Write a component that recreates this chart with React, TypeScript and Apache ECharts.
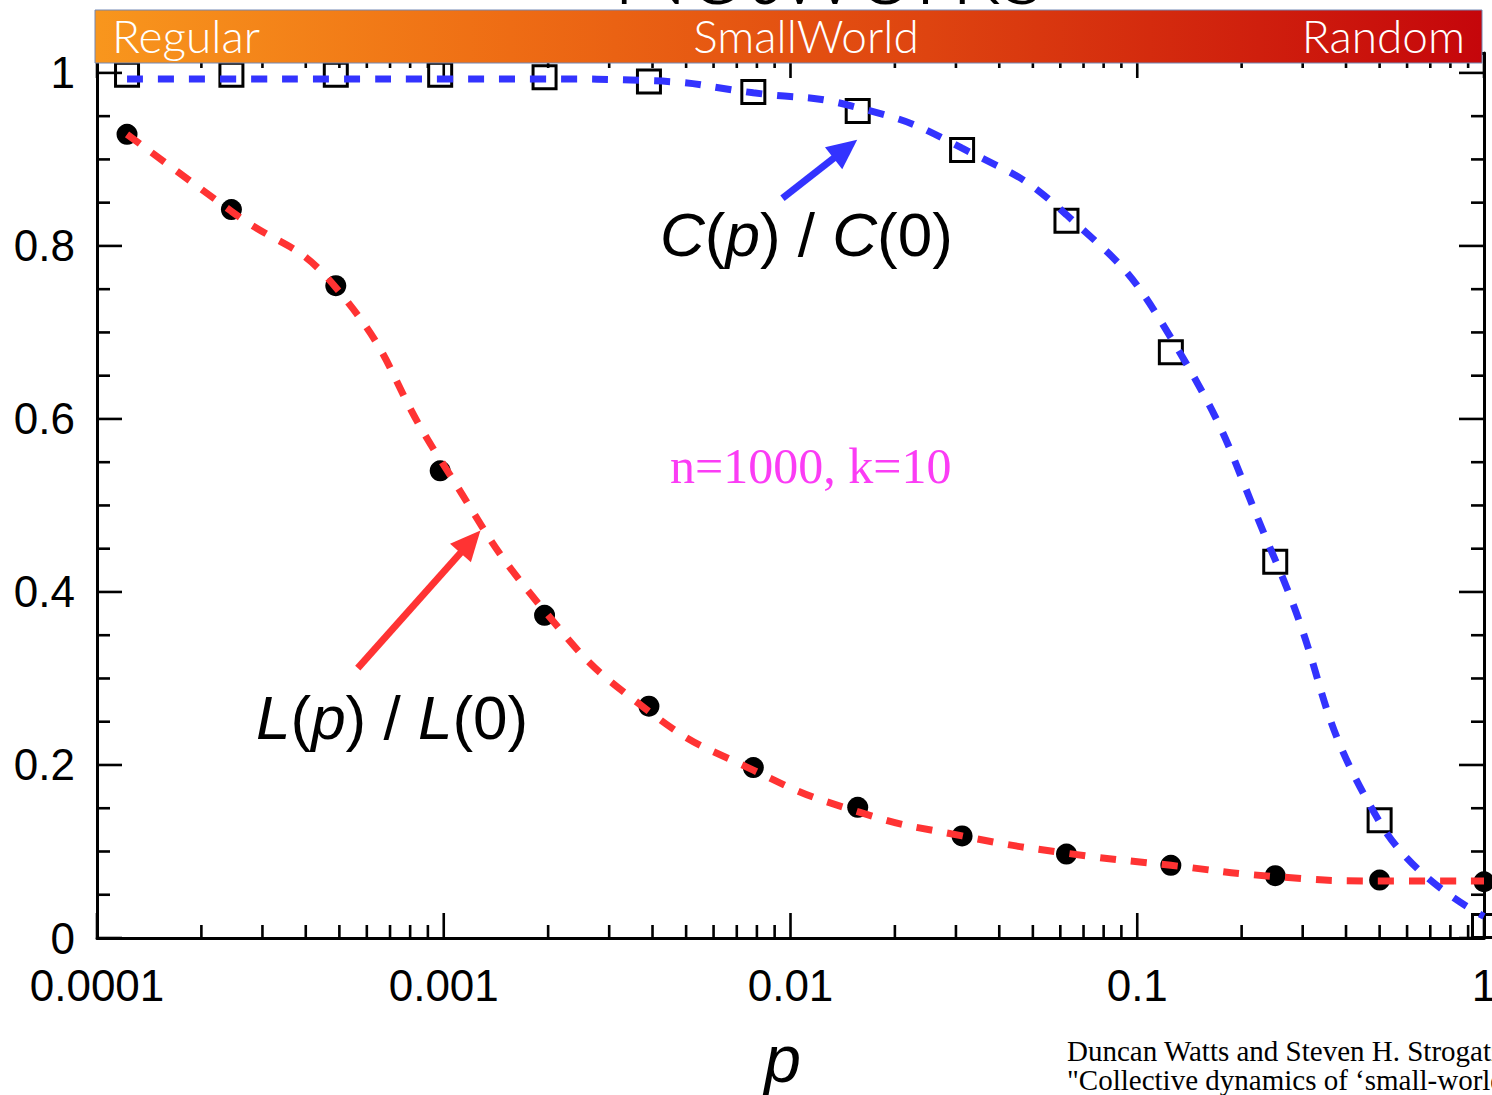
import React, { useEffect, useRef } from "react";
import * as echarts from "echarts";

// ---------- data ----------
const P_VALUES = [
  0.00012207, 0.00024414, 0.00048828, 0.00097656, 0.0019531, 0.0039063, 0.0078125,
  0.015625, 0.03125, 0.0625, 0.125, 0.25, 0.5, 1,
];
const L_VALUES = [0.929, 0.842, 0.754, 0.54, 0.373, 0.268, 0.197, 0.151, 0.118, 0.097, 0.084, 0.072, 0.067, 0.065];
const C_VALUES = [0.998, 0.998, 0.998, 0.998, 0.995, 0.99, 0.978, 0.956, 0.911, 0.829, 0.677, 0.435, 0.136, 0.014];
const L_FIT = [0.929, 0.84, 0.752, 0.553, 0.378, 0.262, 0.194, 0.146, 0.118, 0.098, 0.084, 0.071, 0.066, 0.066];
const C_FIT = [0.993, 0.993, 0.993, 0.993, 0.993, 0.991, 0.977, 0.96, 0.913, 0.836, 0.694, 0.437, 0.134, 0.025];

const X_TICK_LABELS = ["0.0001", "0.001", "0.01", "0.1", "1"];
const X_MAJOR_TICKS = [0.0001, 0.001, 0.01, 0.1, 1];
const X_MINOR_TICKS = [
  0.0002, 0.0003, 0.0004, 0.0005, 0.0006, 0.0007, 0.0008, 0.0009,
  0.002, 0.003, 0.004, 0.005, 0.006, 0.007, 0.008, 0.009,
  0.02, 0.03, 0.04, 0.05, 0.06, 0.07, 0.08, 0.09,
  0.2, 0.3, 0.4, 0.5, 0.6, 0.7, 0.8, 0.9,
];
const Y_MAJOR_TICKS = [0, 0.2, 0.4, 0.6, 0.8, 1];
const Y_MINOR_TICKS = [0.05, 0.1, 0.15, 0.25, 0.3, 0.35, 0.45, 0.5, 0.55, 0.65, 0.7, 0.75, 0.85, 0.9, 0.95];
const Y_MAX = 1.023;

const RED_ARROW = [[0.000565, 0.312], [0.001194, 0.458]];
const BLUE_ARROW = [[0.00948, 0.855], [0.0144, 0.912]];

const BANNER_LABELS = ["Regular", "SmallWorld", "Random"];
const TITLE = "Networks";
const PARAM_TEXT = "n=1000, k=10";
const CITATION = [
  "Duncan Watts and Steven H. Strogatz,",
  "\"Collective dynamics of \u2018small-world\u2019 networks\"",
];

const SANS = '"Liberation Sans", Arial, Helvetica, sans-serif';
const SERIF = '"Liberation Serif", "Times New Roman", serif';
const ROUND = 'Lato, "Open Sans", sans-serif';
const RED = "#ff3333";
const BLUE = "#3333ff";

export default function App() {
  const ref = useRef<HTMLDivElement>(null);

  useEffect(() => {
    if (!ref.current) return;
    const chart = echarts.init(ref.current, undefined, { renderer: "svg" });

    const tickData: number[][] = [
      ...X_MAJOR_TICKS.map((v) => [v, 0, 0]),
      ...X_MINOR_TICKS.map((v) => [v, 0, 1]),
      ...Y_MAJOR_TICKS.map((v) => [X_MAJOR_TICKS[0], v, 2]),
      ...Y_MINOR_TICKS.map((v) => [X_MAJOR_TICKS[0], v, 3]),
    ];

    const xLabel = (v: number) => {
      const i = Math.round(Math.log10(v)) + 4;
      return X_TICK_LABELS[i] ?? "";
    };
    const yLabel = (v: number) =>
      Math.abs(v * 5 - Math.round(v * 5)) < 1e-6 ? String(Math.round(v * 5) / 5) : "";

    const rich = (size: number) => ({
      i: { fontStyle: "italic", fontSize: size, fontFamily: SANS, fill: "#000" },
      n: { fontStyle: "normal", fontSize: size, fontFamily: SANS, fill: "#000" },
    });

    const axisLine = { show: true, onZero: false, lineStyle: { color: "#000", width: 3 } };

    const option: any = {
      animation: false,
      backgroundColor: "#ffffff",
      grid: { left: 97, right: 8, top: 53, bottom: 157, containLabel: false, outerBoundsMode: "none" },
      xAxis: [
        {
          type: "log",
          logBase: 10,
          min: 0.0001,
          max: 1,
          position: "bottom",
          axisLine,
          axisTick: { show: false },
          minorTick: { show: false },
          splitLine: { show: false },
          minorSplitLine: { show: false },
          axisLabel: { margin: 25, fontSize: 44, fontFamily: SANS, color: "#000", formatter: xLabel },
          name: "p",
          nameLocation: "middle",
          nameGap: 88,
          nameTextStyle: {
            fontSize: 66,
            fontStyle: "italic",
            fontFamily: SANS,
            color: "#000",
            padding: [0, 16, 0, 0],
          },
        },
        {
          type: "log",
          logBase: 10,
          min: 0.0001,
          max: 1,
          position: "top",
          axisLine,
          axisTick: { show: false },
          axisLabel: { show: false },
          splitLine: { show: false },
        },
      ],
      yAxis: [
        {
          type: "value",
          min: 0,
          max: Y_MAX,
          interval: 0.2,
          position: "left",
          axisLine,
          axisTick: { show: false },
          splitLine: { show: false },
          axisLabel: { margin: 22, fontSize: 44, fontFamily: SANS, color: "#000", formatter: yLabel },
        },
        {
          type: "value",
          min: 0,
          max: Y_MAX,
          interval: 0.2,
          position: "right",
          axisLine,
          axisTick: { show: false },
          splitLine: { show: false },
          axisLabel: { show: false },
        },
      ],
      series: [
        {
          type: "custom",
          name: "ticks",
          silent: true,
          data: tickData,
          renderItem: (params: any, api: any) => {
            const cs = params.coordSys;
            const kind = api.value(2);
            const style = { stroke: "#000", lineWidth: 2.6 };
            const left = cs.x;
            const right = cs.x + cs.width;
            const top = cs.y;
            const bottom = cs.y + cs.height;
            if (kind === 0 || kind === 1) {
              const x = api.coord([api.value(0), 0])[0];
              const lb = kind === 0 ? 25 : 13;
              const lt = kind === 0 ? 25 : 15;
              return {
                type: "group",
                children: [
                  { type: "line", shape: { x1: x, y1: bottom, x2: x, y2: bottom - lb }, style },
                  { type: "line", shape: { x1: x, y1: top, x2: x, y2: top + lt }, style },
                ],
              };
            }
            const y = api.coord([X_MAJOR_TICKS[0], api.value(1)])[1];
            const l = kind === 2 ? 25 : 13;
            return {
              type: "group",
              children: [
                { type: "line", shape: { x1: left, y1: y, x2: left + l, y2: y }, style },
                { type: "line", shape: { x1: right, y1: y, x2: right - l, y2: y }, style },
              ],
            };
          },
        },
        {
          type: "scatter",
          name: "L(p)/L(0)",
          symbol: "circle",
          symbolSize: 21,
          itemStyle: { color: "#000", opacity: 1 },
          data: P_VALUES.map((p, i) => [p, L_VALUES[i]]),
        },
        {
          type: "scatter",
          name: "C(p)/C(0)",
          symbol: "rect",
          symbolSize: 23,
          itemStyle: { color: "rgba(0,0,0,0)", borderColor: "#000", borderWidth: 3, opacity: 1 },
          data: P_VALUES.map((p, i) => [p, C_VALUES[i]]),
        },
        {
          type: "line",
          name: "L fit",
          showSymbol: false,
          symbol: "none",
          smooth: 0.5,
          lineStyle: { color: RED, width: 7, type: [16, 15], cap: "butt" },
          data: P_VALUES.map((p, i) => [p, L_FIT[i]]),
          markLine: {
            silent: true,
            symbol: ["none", "triangle"],
            symbolSize: [28, 30],
            label: { show: false },
            lineStyle: { type: "solid", width: 7, color: RED },
            itemStyle: { color: RED },
            emphasis: { disabled: true },
            data: [[{ coord: RED_ARROW[0] }, { coord: RED_ARROW[1] }]],
          },
        },
        {
          type: "line",
          name: "C fit",
          showSymbol: false,
          symbol: "none",
          smooth: 0.5,
          lineStyle: { color: BLUE, width: 7, type: [16, 15], cap: "butt" },
          data: P_VALUES.map((p, i) => [p, C_FIT[i]]),
          markLine: {
            silent: true,
            symbol: ["none", "triangle"],
            symbolSize: [28, 30],
            label: { show: false },
            lineStyle: { type: "solid", width: 7, color: BLUE },
            itemStyle: { color: BLUE },
            emphasis: { disabled: true },
            data: [[{ coord: BLUE_ARROW[0] }, { coord: BLUE_ARROW[1] }]],
          },
        },
      ],
      graphic: [
        {
          type: "text",
          x: 828,
          y: -37,
          z: 50,
          style: {
            text: TITLE,
            fontSize: 104,
            fontWeight: 300,
            fontFamily: ROUND,
            fill: "#000",
            align: "center",
            verticalAlign: "middle",
          },
        },
        {
          type: "rect",
          z: 100,
          shape: { x: 95, y: 10, width: 1387, height: 53 },
          style: {
            fill: new echarts.graphic.LinearGradient(0, 0, 1, 0, [
              { offset: 0, color: "#f8961d" },
              { offset: 0.3, color: "#ee6c14" },
              { offset: 0.6, color: "#de4410" },
              { offset: 1, color: "#c5060b" },
            ]),
            stroke: "#7388b5",
            lineWidth: 1,
          },
        },
        {
          type: "text",
          x: 112,
          y: 35,
          z: 101,
          style: { text: BANNER_LABELS[0], fontSize: 46, fontWeight: 300, fontFamily: ROUND, fill: "#fff", align: "left", verticalAlign: "middle" },
        },
        {
          type: "text",
          x: 806,
          y: 35,
          z: 101,
          style: { text: BANNER_LABELS[1], fontSize: 46, fontWeight: 300, fontFamily: ROUND, fill: "#fff", align: "center", verticalAlign: "middle" },
        },
        {
          type: "text",
          x: 1465,
          y: 35,
          z: 101,
          style: { text: BANNER_LABELS[2], fontSize: 46, fontWeight: 300, fontFamily: ROUND, fill: "#fff", align: "right", verticalAlign: "middle" },
        },
        {
          type: "text",
          x: 660,
          y: 234,
          z: 60,
          style: {
            text: "{i|C}{n|(}{i|p}{n|) / }{i|C}{n|(0)}",
            rich: rich(62),
            fontSize: 62,
            fontFamily: SANS,
            align: "left",
            verticalAlign: "middle",
          },
        },
        {
          type: "text",
          x: 256,
          y: 717,
          z: 60,
          style: {
            text: "{i|L}{n|(}{i|p}{n|) / }{i|L}{n|(0)}",
            rich: rich(62),
            fontSize: 62,
            fontFamily: SANS,
            align: "left",
            verticalAlign: "middle",
          },
        },
        {
          type: "text",
          x: 670,
          y: 466,
          z: 60,
          style: { text: PARAM_TEXT, fontSize: 50, fontFamily: SERIF, fill: "#fb3cf5", align: "left", verticalAlign: "middle" },
        },
        {
          type: "text",
          x: 1067,
          y: 1051,
          z: 60,
          style: { text: CITATION[0], fontSize: 29, fontFamily: SERIF, fill: "#000", align: "left", verticalAlign: "middle" },
        },
        {
          type: "text",
          x: 1067,
          y: 1080,
          z: 60,
          style: { text: CITATION[1], fontSize: 29, fontFamily: SERIF, fill: "#000", align: "left", verticalAlign: "middle" },
        },
      ],
    };

    chart.setOption(option);
    return () => chart.dispose();
  }, []);

  return (
    <div
      ref={ref}
      style={{ position: "absolute", left: 0, top: 0, width: 1492, height: 1095, background: "#fff" }}
    />
  );
}
